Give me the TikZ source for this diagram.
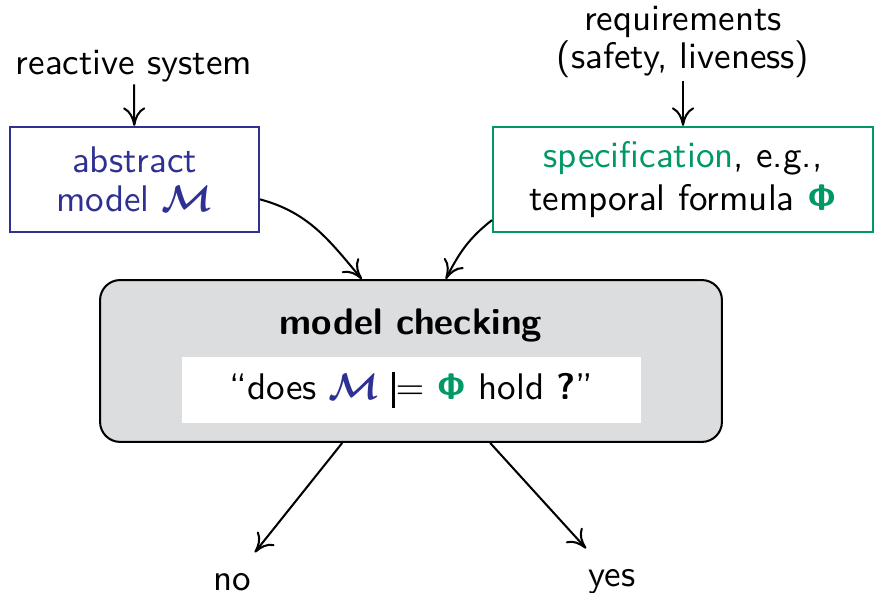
\documentclass[tikz,border=0pt]{standalone}
\usepackage{amsmath,amssymb}
\usepackage{bm}
\usepackage{xcolor}
\usepackage{tikz}
\usetikzlibrary{arrows.meta,positioning}
\definecolor{mdl}{HTML}{2E3192}
\definecolor{spc}{HTML}{009966}
\definecolor{chk}{HTML}{DCDDDF}
\DeclareMathAlphabet{\mathsfbf}{OT1}{cmss}{bx}{n}
\newcommand{\Mdl}{\textcolor{mdl}{$\bm{\mathcal{M}}$}}
\newcommand{\Phf}{\textcolor{spc}{$\mathsfbf{\Phi}$}}
\newcommand{\Sat}{$\mathrel{\rule[-2.2pt]{0.6pt}{9.7pt}\mkern-4.5mu=}$}

\begin{document}
\begin{tikzpicture}[
  x=0.27pt, y=0.27pt,
  font=\sffamily\fontsize{10}{10.5}\selectfont,
  box/.style={draw, line width=0.55pt, align=center, inner sep=0pt},
  lbl/.style={align=center, inner sep=0.5pt},
  res/.style={inner sep=3pt, text height=7pt, text depth=2pt},
  arr/.style={-{To[length=5pt,width=6pt]}, line width=0.55pt}]
\useasboundingbox (0,0) rectangle (874,593);

% inputs
\node[box, draw=mdl, text=mdl, minimum width=67.2pt, minimum height=28.4pt] (abstract) at (134.5,413.5)
  {abstract\\ model \Mdl};
\node[box, draw=spc, minimum width=102.6pt, minimum height=28.4pt] (spec) at (683,413.5)
  {\textcolor{spc}{specification}, e.g.,\\[1pt] temporal formula \Phf};
\node[lbl] (reactive) at (134,527) {reactive system};
\node[lbl] (reqs) at (683,551) {requirements\\ (safety, liveness)};

% checker
\node[box, fill=chk, rounded corners=5.4pt, minimum width=167.9pt, minimum height=43.7pt] (check) at (411,232) {};
\node[lbl, font=\sffamily\bfseries] (title) at (411,268) {model checking};
\node[fill=white, inner sep=0pt, minimum width=123.9pt, minimum height=17.8pt] (query) at (411.5,203)
  {``does \Mdl\ \Sat\ \Phf\ hold \textbf{?}''};

% outcomes
\node[res] (no) at (232,12) {no};
\node[res] (yes) at (612,16) {yes};

\draw[arr] (reactive) -- (abstract);
\draw[arr] (reqs) -- (spec);
\draw[arr] (abstract.-9.4) to[out=-15,in=130] (check.121.2);
\draw[arr] (spec.192.6) to[out=218,in=63] (check.67.2);
\draw[arr] (check.230.4) -- (no);
\draw[arr] (check.-46.8) -- (yes);
\end{tikzpicture}
\end{document}
